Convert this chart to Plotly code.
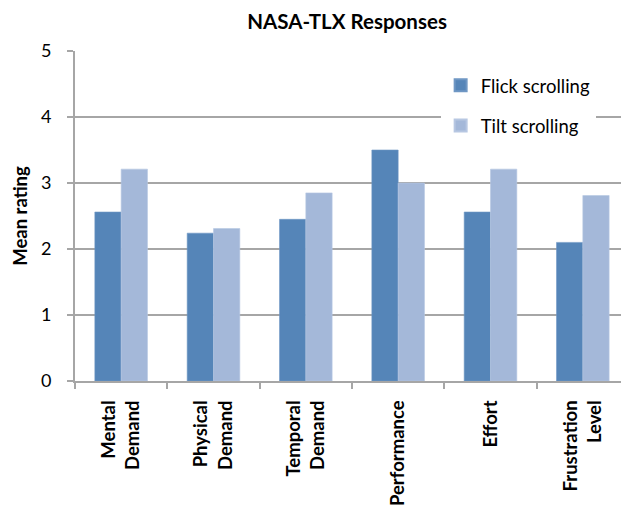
import plotly.graph_objects as go

categories = ["Mental<br>Demand", "Physical<br>Demand", "Temporal<br>Demand",
              "Performance", "Effort", "Frustration<br>Level"]
flick = [2.56, 2.24, 2.45, 3.50, 2.56, 2.10]
tilt = [3.21, 2.31, 2.85, 3.00, 3.21, 2.81]
series_names = ["Flick scrolling", "Tilt scrolling"]
y_ticks = [0, 1, 2, 3, 4, 5]

FONT = "Lato"
GRID = "#a6a6a6"

fig = go.Figure()
fig.add_trace(go.Bar(x=categories, y=flick, name=series_names[0], legendgroup="a",
                     marker=dict(color="#5585b8", line=dict(color="#6f97c4", width=0.6))))
fig.add_trace(go.Bar(x=categories, y=tilt, name=series_names[1], legendgroup="b",
                     marker=dict(color="#a4b8d9", line=dict(color="#b7c7e2", width=0.6))))

fig.update_layout(
    width=621, height=504,
    margin=dict(l=67, r=0, t=43, b=131),
    paper_bgcolor="white", plot_bgcolor="white",
    barmode="group", bargap=0.43, bargroupgap=0,
    font=dict(family=FONT, color="black"),
    title=dict(text="<b>NASA-TLX Responses</b>", x=0.546, xanchor="center",
               y=0.972, yanchor="middle", font=dict(size=20.5, family=FONT)),
    legend=dict(x=0.66, y=0.952, xanchor="left", yanchor="top",
                bgcolor="white", font=dict(size=18.5, family=FONT),
                tracegroupgap=13, itemsizing="constant", traceorder="grouped"),
    xaxis=dict(type="category", tickson="boundaries", ticks="outside", ticklen=6,
               tickcolor=GRID, tickwidth=1.5, showline=True, linecolor=GRID, linewidth=2,
               tickangle=-90, tickfont=dict(size=18.5, family=FONT), showgrid=False,
               ticklabelstandoff=10),
    yaxis=dict(range=[0, 5], tickvals=y_ticks, ticks="outside", ticklen=6,
               tickcolor=GRID, tickwidth=1.5, showline=True, linecolor=GRID, linewidth=2,
               showgrid=True, gridcolor=GRID, gridwidth=2, zeroline=False,
               tickfont=dict(size=18, family=FONT), ticklabelstandoff=12,
               title=dict(text="<b>Mean rating</b>", font=dict(size=18.5, family=FONT), standoff=8)),
)
fig.update_xaxes(tickprefix="<b>", ticksuffix="</b>")

fig.write_html("out.html")
